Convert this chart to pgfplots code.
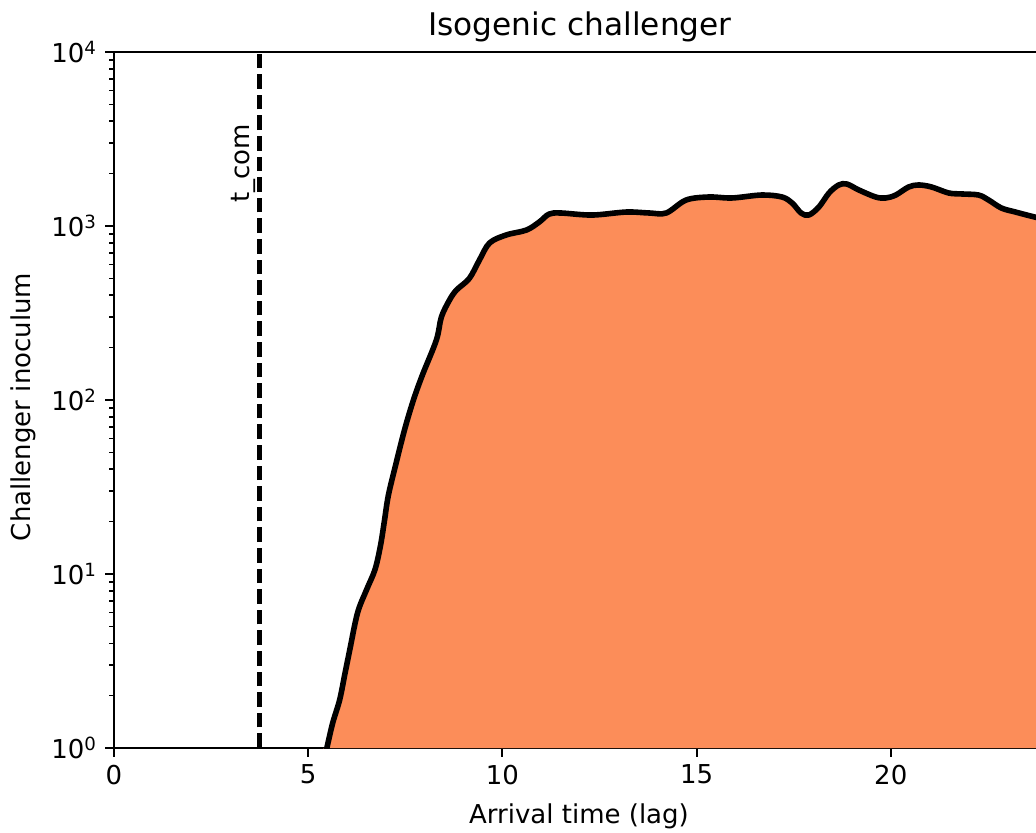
\documentclass[border=0pt]{standalone}
\usepackage{fontspec}
\setmainfont{DejaVu Sans}
\usepackage{pgfplots}
\pgfplotsset{compat=1.18}
\definecolor{fillorange}{RGB}{252,141,89}
\pgfplotstableread{
x y
5.40 0.85
5.48 1.00
5.63 1.39
5.81 1.89
5.94 2.63
6.07 3.66
6.27 5.97
6.50 8.09
6.72 10.6
6.86 14.5
6.96 20.0
7.06 28.0
7.22 39.6
7.48 67.3
7.71 100
7.94 139
8.30 221
8.43 300
8.64 376
8.82 429
9.15 500
9.41 638
9.67 799
10.10 888
10.62 948
10.95 1054
11.20 1170
11.50 1188
12.31 1156
13.19 1203
13.78 1188
14.22 1188
14.73 1410
15.32 1468
15.91 1449
16.68 1507
17.20 1468
17.46 1356
17.69 1188
17.89 1156
18.15 1286
18.41 1548
18.66 1721
18.87 1743
19.18 1610
19.61 1468
19.87 1449
20.13 1507
20.46 1676
20.72 1721
21.05 1676
21.49 1548
21.83 1528
22.26 1507
22.52 1410
22.85 1268
23.21 1203
23.70 1127
24.00 1090
}\datatable
\begin{document}
\begin{tikzpicture}
\begin{axis}[
  at={(0,0)}, anchor=south west,
  scale only axis, width=461pt, height=348pt,
  xmin=0, xmax=23.74, ymin=1, ymax=10000,
  ymode=log,
  axis x line*=box, axis y line*=left,
  axis line style={line width=1pt, black},
  xtick={0,5,10,15,20},
  ytick={1,10,100,1000,10000},
  yticklabels={10\textsuperscript{0},10\textsuperscript{1},10\textsuperscript{2},10\textsuperscript{3},10\textsuperscript{4}},
  minor ytick={2,3,4,5,6,7,8,9,20,30,40,50,60,70,80,90,200,300,400,500,600,700,800,900,2000,3000,4000,5000,6000,7000,8000,9000},
  xtick pos=bottom, ytick pos=left,
  tick align=outside,
  major tick length=4.3pt, minor tick length=2.5pt,
  every major tick/.append style={line width=1pt, black},
  every minor tick/.append style={line width=0.75pt, black},
  /pgf/number format/assume math mode=true,
  tick label style={font=\fontsize{13}{15}\selectfont},
  xticklabel style={anchor=north, inner sep=0pt, yshift=-4pt},
  yticklabel style={anchor=east, inner sep=0pt, xshift=-4pt},
  title={Isogenic challenger},
  title style={font=\fontsize{15.6}{18}\selectfont, at={(axis description cs:0.5054,1.023)}, anchor=base, inner sep=0pt, yshift=-6pt},
  xlabel={Arrival time (lag)},
  xlabel style={font=\fontsize{13}{15}\selectfont, at={(axis description cs:0.5043,-0.1078)}, anchor=base, inner sep=0pt},
  ylabel={Challenger inoculum},
  ylabel style={font=\fontsize{13}{15}\selectfont, at={(axis description cs:-0.0987,0.49)}, anchor=center, inner sep=0pt},
]
\addplot[draw=none, fill=fillorange, smooth, tension=0.55] table[x=x,y=y] {\datatable} \closedcycle;
\addplot[black, line width=2.8pt, smooth, tension=0.55, line join=round] table[x=x,y=y] {\datatable};
\addplot[black, line width=2.3pt, dash pattern=on 7.3pt off 3pt] coordinates {(3.75,1) (3.75,10000)};
\node[rotate=90, anchor=south west, inner sep=0pt, font=\fontsize{13}{15}\selectfont] at (axis cs:3.66,1356) {t\_com};
\end{axis}
\pgfresetboundingbox
\path[use as bounding box] (-57pt,-42pt) rectangle (461pt,374pt);
\end{tikzpicture}
\end{document}
